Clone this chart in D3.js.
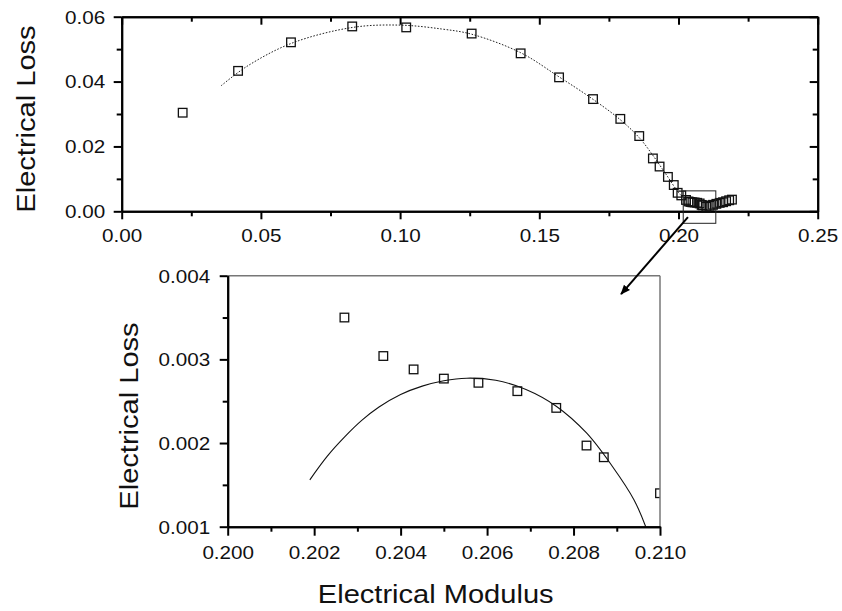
<!DOCTYPE html>
<html>
<head>
<meta charset="utf-8">
<script src="https://cdn.jsdelivr.net/npm/d3@7"></script>
<style>
  body { margin: 0; background: #fff; }
  text { font-family: "Liberation Sans", Arial, sans-serif; fill: #111; }
</style>
</head>
<body>
<div id="chart"></div>
<script>
// measured points (electrical modulus vs electrical loss)
var modulus = [0.0219, 0.0418, 0.0608, 0.0828, 0.1022, 0.1257, 0.1433, 0.1571, 0.1693, 0.1791,
  0.1859, 0.1908, 0.1932, 0.1962, 0.1983, 0.1997, 0.2010, 0.2027, 0.2036, 0.2043,
  0.2050, 0.2058, 0.2067, 0.2076, 0.2083, 0.2087, 0.2100, 0.2112, 0.2124, 0.2136,
  0.2148, 0.2160, 0.2171, 0.2182, 0.2192];
var loss = [0.0304, 0.0433, 0.0521, 0.0570, 0.0567, 0.0548, 0.0487, 0.0413, 0.0346, 0.0285,
  0.0232, 0.0163, 0.0138, 0.0106, 0.0081, 0.0057, 0.0049, 0.00350, 0.00304, 0.00288,
  0.00277, 0.00272, 0.00262, 0.00242, 0.00197, 0.00183, 0.00140, 0.0017, 0.0020, 0.0023,
  0.0026, 0.0028, 0.0031, 0.0034, 0.0036];

// dotted fit in the main plot
var fitX = [0.0357, 0.045, 0.061, 0.083, 0.100, 0.115, 0.1257, 0.1433, 0.157, 0.169,
  0.179, 0.186, 0.191, 0.196, 0.200, 0.2025];
var fitY = [0.0387, 0.0447, 0.0518, 0.0567, 0.0574, 0.0562, 0.0546, 0.0489, 0.0415, 0.0347,
  0.0283, 0.0226, 0.0170, 0.0108, 0.0058, 0.0036];

// solid fit in the zoomed plot
var zoomFitX = [0.2019, 0.2023, 0.2027, 0.2031, 0.2035, 0.2040, 0.2045, 0.2050, 0.20553, 0.2062,
  0.2069, 0.2076, 0.2083, 0.2089, 0.2094, 0.20967];
var zoomFitY = [0.00156, 0.00184, 0.00207, 0.00227, 0.00243, 0.00258, 0.00268, 0.002745, 0.002775, 0.00275,
  0.00264, 0.00244, 0.00212, 0.00172, 0.00132, 0.00100];

// ticks
var topXTicks = [0, 0.05, 0.10, 0.15, 0.20, 0.25];
var topXMinor = [0.025, 0.075, 0.125, 0.175, 0.225];
var topYTicks = [0, 0.02, 0.04, 0.06];
var topYMinor = [0.01, 0.03, 0.05];
var botXTicks = [0.200, 0.202, 0.204, 0.206, 0.208, 0.210];
var botXMinor = [0.201, 0.203, 0.205, 0.207, 0.209];
var botYTicks = [0.001, 0.002, 0.003, 0.004];
var botYMinor = [0.0015, 0.0025, 0.0035];

// zoom box (main plot units) and arrow ends
var zoomBoxX = [0.2017, 0.2134];
var zoomBoxY = [-0.0037, 0.0063];
var arrowFrom = [0.2034, -0.0018];   // main plot units
var arrowTo = [0.2091, 0.00378];     // zoomed plot units

var W = 842, H = 611;
var sx = 1.18;    // tick labels are wide
var lsx = 1.14;   // axis titles

var svg = d3.select("#chart").append("svg")
  .attr("width", W).attr("height", H);

svg.append("rect").attr("width", W).attr("height", H).attr("fill", "#fff");

var x1 = d3.scaleLinear().domain([0, 0.25]).range([121.7, 817.7]);
var y1 = d3.scaleLinear().domain([0, 0.06]).range([211.3, 16.7]);
var x2 = d3.scaleLinear().domain([0.200, 0.210]).range([227.7, 660]);
var y2 = d3.scaleLinear().domain([0.001, 0.004]).range([526.7, 275.7]);

function styleAxis(g, width, color) {
  g.select(".domain").attr("stroke", color).attr("stroke-width", width);
  g.selectAll(".tick line").attr("stroke", color).attr("stroke-width", width);
}

// bottom-style labels: y is top of digits below the axis
function hLabels(g, topPad) {
  g.selectAll("text")
    .attr("y", topPad)
    .attr("dy", "0.71em")
    .attr("transform", "scale(" + sx + ",1)")
    .style("font-size", "17.5px");
}
function vLabels(g, gap) {
  g.selectAll("text")
    .attr("x", -gap / sx)
    .attr("dy", "0.36em")
    .attr("transform", "scale(" + sx + ",1)")
    .style("font-size", "17.5px");
}

// ---------- main plot ----------
var mainG = svg.append("g");

// minor ticks first
mainG.append("g").attr("transform", "translate(0," + y1(0) + ")")
  .call(d3.axisBottom(x1).tickValues(topXMinor).tickSize(5).tickSizeOuter(0).tickFormat(""))
  .call(styleAxis, 2, "#000");
mainG.append("g").attr("transform", "translate(0," + y1(0.06) + ")")
  .call(d3.axisTop(x1).tickValues(topXMinor).tickSize(-5).tickSizeOuter(0).tickFormat(""))
  .call(styleAxis, 2, "#000");
mainG.append("g").attr("transform", "translate(" + x1(0) + ",0)")
  .call(d3.axisLeft(y1).tickValues(topYMinor).tickSize(5).tickSizeOuter(0).tickFormat(""))
  .call(styleAxis, 2, "#000");
mainG.append("g").attr("transform", "translate(" + x1(0.25) + ",0)")
  .call(d3.axisRight(y1).tickValues(topYMinor).tickSize(-5).tickSizeOuter(0).tickFormat(""))
  .call(styleAxis, 2, "#000");

// major ticks
mainG.append("g").attr("transform", "translate(0," + y1(0) + ")")
  .call(d3.axisBottom(x1).tickValues(topXTicks).tickSize(8).tickSizeOuter(0).tickFormat(d3.format(".2f")))
  .call(styleAxis, 2, "#000")
  .call(hLabels, 18.2);
mainG.append("g").attr("transform", "translate(0," + y1(0.06) + ")")
  .call(d3.axisTop(x1).tickValues(topXTicks).tickSize(-8).tickSizeOuter(0).tickFormat(""))
  .call(styleAxis, 2, "#000");
mainG.append("g").attr("transform", "translate(" + x1(0) + ",0)")
  .call(d3.axisLeft(y1).tickValues(topYTicks).tickSize(8).tickSizeOuter(0).tickFormat(d3.format(".2f")))
  .call(styleAxis, 2, "#000")
  .call(vLabels, 16.5);
mainG.append("g").attr("transform", "translate(" + x1(0.25) + ",0)")
  .call(d3.axisRight(y1).tickValues(topYTicks).tickSize(-8).tickSizeOuter(0).tickFormat(""))
  .call(styleAxis, 2, "#000");

// dotted fit
mainG.append("path")
  .datum(d3.range(fitX.length))
  .attr("fill", "none")
  .attr("stroke", "#222")
  .attr("stroke-width", 1)
  .attr("stroke-dasharray", "1.6,1.6")
  .attr("d", d3.line().curve(d3.curveCatmullRom)
    .x(function(i) { return x1(fitX[i]); })
    .y(function(i) { return y1(fitY[i]); }));

// squares
mainG.selectAll(".pt")
  .data(d3.range(modulus.length))
  .enter().append("rect")
    .attr("class", "pt")
    .attr("x", function(i) { return x1(modulus[i]) - 4.3; })
    .attr("y", function(i) { return y1(loss[i]) - 4.3; })
    .attr("width", 8.6).attr("height", 8.6)
    .attr("fill", "none")
    .attr("stroke", "#111")
    .attr("stroke-width", 1.3);

// zoom box
mainG.append("rect")
  .attr("x", x1(zoomBoxX[0]))
  .attr("y", y1(zoomBoxY[1]))
  .attr("width", x1(zoomBoxX[1]) - x1(zoomBoxX[0]))
  .attr("height", y1(zoomBoxY[0]) - y1(zoomBoxY[1]))
  .attr("fill", "none")
  .attr("stroke", "#222")
  .attr("stroke-width", 1);

mainG.append("text")
  .attr("transform", "translate(35," + 119 + ") rotate(-90) scale(" + lsx + ",1)")
  .attr("text-anchor", "middle")
  .style("font-size", "25.5px")
  .text("Electrical Loss");

// ---------- zoomed plot ----------
var zoomG = svg.append("g");

svg.append("clipPath").attr("id", "clip")
  .append("rect")
    .attr("x", x2(0.200)).attr("y", y2(0.004))
    .attr("width", x2(0.210) - x2(0.200))
    .attr("height", y2(0.001) - y2(0.004));

// frame (top and right in grey)
zoomG.append("line")
  .attr("x1", x2(0.200)).attr("x2", x2(0.210))
  .attr("y1", y2(0.004)).attr("y2", y2(0.004))
  .attr("stroke", "#777").attr("stroke-width", 1.5);

var plotArea = zoomG.append("g").attr("clip-path", "url(#clip)");

plotArea.append("path")
  .datum(d3.range(zoomFitX.length))
  .attr("fill", "none")
  .attr("stroke", "#111")
  .attr("stroke-width", 1.1)
  .attr("d", d3.line().curve(d3.curveCatmullRom)
    .x(function(i) { return x2(zoomFitX[i]); })
    .y(function(i) { return y2(zoomFitY[i]); }));

plotArea.selectAll(".pt")
  .data(d3.range(modulus.length))
  .enter().append("rect")
    .attr("class", "pt")
    .attr("x", function(i) { return x2(modulus[i]) - 4.3; })
    .attr("y", function(i) { return y2(loss[i]) - 4.3; })
    .attr("width", 8.6).attr("height", 8.6)
    .attr("fill", "none")
    .attr("stroke", "#111")
    .attr("stroke-width", 1.3);

zoomG.append("line")
  .attr("x1", x2(0.210)).attr("x2", x2(0.210))
  .attr("y1", y2(0.004)).attr("y2", y2(0.001))
  .attr("stroke", "#777").attr("stroke-width", 1.5);

zoomG.append("g").attr("transform", "translate(0," + y2(0.001) + ")")
  .call(d3.axisBottom(x2).tickValues(botXMinor).tickSize(5).tickSizeOuter(0).tickFormat(""))
  .call(styleAxis, 2, "#000");
zoomG.append("g").attr("transform", "translate(" + x2(0.200) + ",0)")
  .call(d3.axisLeft(y2).tickValues(botYMinor).tickSize(5).tickSizeOuter(0).tickFormat(""))
  .call(styleAxis, 2, "#000");
zoomG.append("g").attr("transform", "translate(0," + y2(0.001) + ")")
  .call(d3.axisBottom(x2).tickValues(botXTicks).tickSize(9).tickSizeOuter(0).tickFormat(d3.format(".3f")))
  .call(styleAxis, 2, "#000")
  .call(hLabels, 19.5);
zoomG.append("g").attr("transform", "translate(" + x2(0.200) + ",0)")
  .call(d3.axisLeft(y2).tickValues(botYTicks).tickSize(8).tickSizeOuter(0).tickFormat(d3.format(".3f")))
  .call(styleAxis, 2, "#000")
  .call(vLabels, 17.5);

zoomG.append("text")
  .attr("transform", "translate(138," + 416 + ") rotate(-90) scale(" + lsx + ",1)")
  .attr("text-anchor", "middle")
  .style("font-size", "25.5px")
  .text("Electrical Loss");

zoomG.append("text")
  .attr("transform", "translate(435.7,603) scale(" + lsx + ",1)")
  .attr("text-anchor", "middle")
  .style("font-size", "25.5px")
  .text("Electrical Modulus");

// ---------- arrow ----------
svg.append("defs").append("marker")
  .attr("id", "head")
  .attr("viewBox", "0 0 10 10")
  .attr("refX", 9).attr("refY", 5)
  .attr("markerWidth", 5).attr("markerHeight", 5)
  .attr("markerUnits", "strokeWidth")
  .attr("orient", "auto")
  .append("path")
    .attr("d", "M0,1 L10,5 L0,9 Z")
    .attr("fill", "#000");

svg.append("line")
  .attr("x1", x1(arrowFrom[0])).attr("y1", y1(arrowFrom[1]))
  .attr("x2", x2(arrowTo[0])).attr("y2", y2(arrowTo[1]))
  .attr("stroke", "#000")
  .attr("stroke-width", 2)
  .attr("marker-end", "url(#head)");
</script>
</body>
</html>
